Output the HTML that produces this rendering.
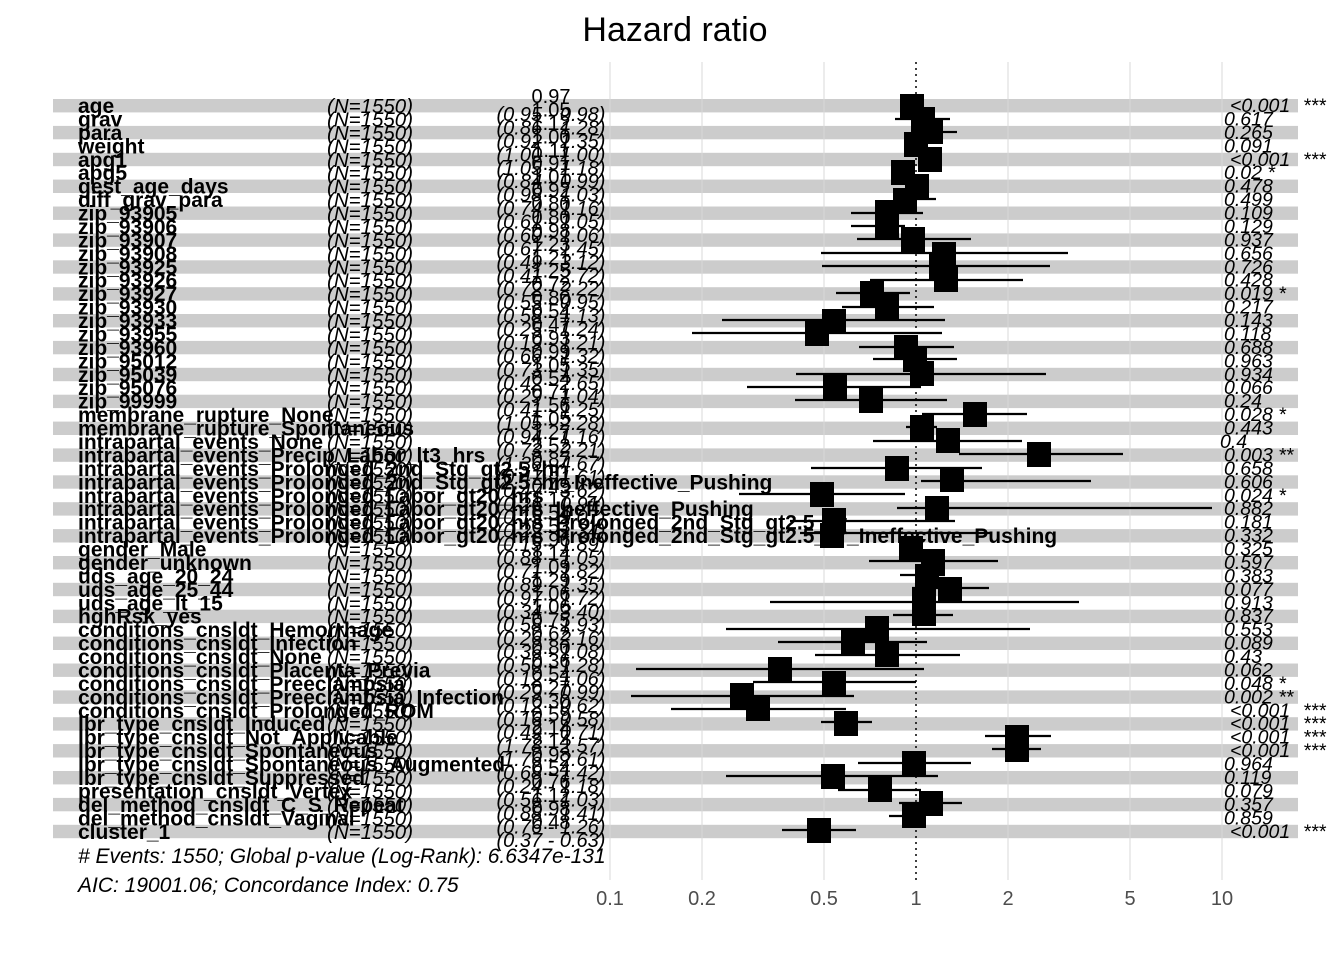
<!DOCTYPE html>
<html><head><meta charset="utf-8"><style>
body{margin:0;background:#fff}
svg{display:block}
text{font-family:"Liberation Sans",Arial,sans-serif}
.l{font-size:21px;font-weight:bold}
.n{font-size:20.5px;font-style:italic}
.e{font-size:20px;text-anchor:middle}
.c{font-size:20px;font-style:italic;text-anchor:middle}
.p{font-size:19.5px;font-style:italic}
.ax{font-size:20px;fill:#4d4d4d;text-anchor:middle}
</style></head><body>
<svg width="1344" height="960" xmlns="http://www.w3.org/2000/svg">
<rect width="1344" height="960" fill="#fff"/>
<text x="675" y="41" font-size="34" text-anchor="middle">Hazard ratio</text>
<g fill="#cccccc">
<rect x="53" y="99" width="1245" height="13.4"/><rect x="53" y="125.9" width="1245" height="13.4"/><rect x="53" y="152.8" width="1245" height="13.4"/><rect x="53" y="179.6" width="1245" height="13.4"/><rect x="53" y="206.5" width="1245" height="13.4"/><rect x="53" y="233.4" width="1245" height="13.4"/><rect x="53" y="260.3" width="1245" height="13.4"/><rect x="53" y="287.2" width="1245" height="13.4"/><rect x="53" y="314" width="1245" height="13.4"/><rect x="53" y="340.9" width="1245" height="13.4"/><rect x="53" y="367.8" width="1245" height="13.4"/><rect x="53" y="394.7" width="1245" height="13.4"/><rect x="53" y="421.6" width="1245" height="13.4"/><rect x="53" y="448.4" width="1245" height="13.4"/><rect x="53" y="475.3" width="1245" height="13.4"/><rect x="53" y="502.2" width="1245" height="13.4"/><rect x="53" y="529.1" width="1245" height="13.4"/><rect x="53" y="556" width="1245" height="13.4"/><rect x="53" y="582.8" width="1245" height="13.4"/><rect x="53" y="609.7" width="1245" height="13.4"/><rect x="53" y="636.6" width="1245" height="13.4"/><rect x="53" y="663.5" width="1245" height="13.4"/><rect x="53" y="690.4" width="1245" height="13.4"/><rect x="53" y="717.2" width="1245" height="13.4"/><rect x="53" y="744.1" width="1245" height="13.4"/><rect x="53" y="771" width="1245" height="13.4"/><rect x="53" y="797.9" width="1245" height="13.4"/><rect x="53" y="824.8" width="1245" height="13.4"/>
</g>
<g stroke="#d9d9d9" stroke-width="1">
<line x1="610" y1="62" x2="610" y2="880"/><line x1="702" y1="62" x2="702" y2="880"/><line x1="824" y1="62" x2="824" y2="880"/><line x1="1008" y1="62" x2="1008" y2="880"/><line x1="1130" y1="62" x2="1130" y2="880"/><line x1="1222" y1="62" x2="1222" y2="880"/>
</g>
<line x1="916" y1="62" x2="916" y2="880" stroke="#000" stroke-width="1.5" stroke-dasharray="2,4"/>
<g stroke="#000" stroke-width="2.2">
<line x1="895" y1="119" x2="950" y2="119"/><line x1="942" y1="132" x2="957" y2="132"/><line x1="917" y1="199" x2="936" y2="199"/><line x1="851" y1="213" x2="923" y2="213"/><line x1="851" y1="226" x2="905" y2="226"/><line x1="857" y1="239" x2="971" y2="239"/><line x1="821" y1="253" x2="1068" y2="253"/><line x1="822" y1="266" x2="1050" y2="266"/><line x1="870" y1="280" x2="1023" y2="280"/><line x1="836" y1="293" x2="910" y2="293"/><line x1="842" y1="307" x2="934" y2="307"/><line x1="722" y1="320" x2="945" y2="320"/><line x1="692" y1="333" x2="942" y2="333"/><line x1="859" y1="347" x2="954" y2="347"/><line x1="873" y1="359" x2="957" y2="359"/><line x1="796" y1="374" x2="1046" y2="374"/><line x1="747" y1="387" x2="921" y2="387"/><line x1="795" y1="400" x2="947" y2="400"/><line x1="922" y1="414" x2="1027" y2="414"/><line x1="906" y1="427" x2="937" y2="427"/><line x1="873" y1="441" x2="1022" y2="441"/><line x1="959" y1="454" x2="1123" y2="454"/><line x1="811" y1="468" x2="982" y2="468"/><line x1="921" y1="481" x2="1091" y2="481"/><line x1="739" y1="494" x2="905" y2="494"/><line x1="897" y1="508" x2="1212" y2="508"/><line x1="790" y1="521" x2="955" y2="521"/><line x1="800" y1="533" x2="990" y2="533"/><line x1="869" y1="561" x2="998" y2="561"/><line x1="900" y1="575" x2="945" y2="575"/><line x1="912" y1="588" x2="989" y2="588"/><line x1="770" y1="602" x2="1079" y2="602"/><line x1="893" y1="615" x2="953" y2="615"/><line x1="726" y1="629" x2="1030" y2="629"/><line x1="778" y1="642" x2="927" y2="642"/><line x1="815" y1="655" x2="960" y2="655"/><line x1="636" y1="669" x2="924" y2="669"/><line x1="753" y1="682" x2="916" y2="682"/><line x1="631" y1="696" x2="854" y2="696"/><line x1="671" y1="709" x2="846" y2="709"/><line x1="821" y1="722" x2="872" y2="722"/><line x1="985" y1="736" x2="1051" y2="736"/><line x1="992" y1="749" x2="1041" y2="749"/><line x1="858" y1="763" x2="971" y2="763"/><line x1="726" y1="776" x2="938" y2="776"/><line x1="838" y1="790" x2="921" y2="790"/><line x1="899" y1="803" x2="962" y2="803"/><line x1="889" y1="816" x2="921" y2="816"/><line x1="782" y1="830" x2="856" y2="830"/>
</g>
<g fill="#000">
<rect x="900" y="94" width="24" height="25"/><rect x="911" y="107" width="24" height="25"/><rect x="919" y="119" width="24" height="25"/><rect x="904" y="132" width="24" height="25"/><rect x="918" y="147" width="24" height="25"/><rect x="891" y="160" width="24" height="25"/><rect x="905" y="174" width="24" height="25"/><rect x="893" y="188" width="24" height="25"/><rect x="875" y="200" width="24" height="25"/><rect x="875" y="214" width="24" height="25"/><rect x="901" y="227" width="24" height="25"/><rect x="932" y="242" width="24" height="25"/><rect x="929" y="254" width="24" height="25"/><rect x="934" y="267" width="24" height="25"/><rect x="860" y="281" width="24" height="25"/><rect x="875" y="294" width="24" height="25"/><rect x="822" y="309" width="24" height="25"/><rect x="805" y="321" width="24" height="25"/><rect x="894" y="335" width="24" height="25"/><rect x="903" y="347" width="24" height="25"/><rect x="910" y="361" width="24" height="25"/><rect x="823" y="375" width="24" height="25"/><rect x="859" y="388" width="24" height="25"/><rect x="963" y="402" width="24" height="25"/><rect x="910" y="415" width="24" height="25"/><rect x="936" y="428" width="24" height="25"/><rect x="1027" y="442" width="24" height="25"/><rect x="885" y="456" width="24" height="25"/><rect x="940" y="467" width="24" height="25"/><rect x="810" y="482" width="24" height="25"/><rect x="925" y="496" width="24" height="25"/><rect x="822" y="508" width="24" height="25"/><rect x="820" y="523" width="24" height="25"/><rect x="899" y="536" width="24" height="25"/><rect x="921" y="549" width="24" height="25"/><rect x="915" y="564" width="24" height="25"/><rect x="938" y="577" width="24" height="25"/><rect x="912" y="589" width="24" height="25"/><rect x="912" y="601" width="24" height="25"/><rect x="865" y="616" width="24" height="25"/><rect x="841" y="630" width="24" height="25"/><rect x="875" y="642" width="24" height="25"/><rect x="768" y="657" width="24" height="25"/><rect x="822" y="671" width="24" height="25"/><rect x="730" y="683" width="24" height="25"/><rect x="746" y="696" width="24" height="25"/><rect x="834" y="711" width="24" height="25"/><rect x="1005" y="725" width="24" height="25"/><rect x="1005" y="737" width="24" height="25"/><rect x="902" y="751" width="24" height="25"/><rect x="821" y="764" width="24" height="25"/><rect x="868" y="777" width="24" height="25"/><rect x="919" y="791" width="24" height="25"/><rect x="902" y="803" width="24" height="25"/><rect x="807" y="818" width="24" height="25"/>
</g>
<g class="l">
<text x="78" y="113">age</text><text x="78" y="126.4">grav</text><text x="78" y="139.9">para</text><text x="78" y="153.3">weight</text><text x="78" y="166.8">apg1</text><text x="78" y="180.2">apg5</text><text x="78" y="193.6">gest_age_days</text><text x="78" y="207.1">diff_grav_para</text><text x="78" y="220.5">zip_93905</text><text x="78" y="234">zip_93906</text><text x="78" y="247.4">zip_93907</text><text x="78" y="260.8">zip_93908</text><text x="78" y="274.3">zip_93925</text><text x="78" y="287.7">zip_93926</text><text x="78" y="301.2">zip_93927</text><text x="78" y="314.6">zip_93930</text><text x="78" y="328">zip_93933</text><text x="78" y="341.5">zip_93955</text><text x="78" y="354.9">zip_93960</text><text x="78" y="368.4">zip_95012</text><text x="78" y="381.8">zip_95039</text><text x="78" y="395.2">zip_95076</text><text x="78" y="408.7">zip_99999</text><text x="78" y="422.1">membrane_rupture_None</text><text x="78" y="435.6">membrane_rupture_Spontaneous</text><text x="78" y="449">intrapartal_events_None</text><text x="78" y="462.4">intrapartal_events_Precip_Labor_lt3_hrs</text><text x="78" y="475.9">intrapartal_events_Prolonged_2nd_Stg_gt2.5_hr</text><text x="78" y="489.3">intrapartal_events_Prolonged_2nd_Stg_gt2.5_hr_Ineffective_Pushing</text><text x="78" y="502.8">intrapartal_events_Prolonged_Labor_gt20_hrs</text><text x="78" y="516.2">intrapartal_events_Prolonged_Labor_gt20_hrs_Ineffective_Pushing</text><text x="78" y="529.6">intrapartal_events_Prolonged_Labor_gt20_hrs_Prolonged_2nd_Stg_gt2.5_hr</text><text x="78" y="543.1">intrapartal_events_Prolonged_Labor_gt20_hrs_Prolonged_2nd_Stg_gt2.5_hr_Ineffective_Pushing</text><text x="78" y="556.5">gender_Male</text><text x="78" y="570">gender_unknown</text><text x="78" y="583.4">uds_age_20_24</text><text x="78" y="596.8">uds_age_25_44</text><text x="78" y="610.3">uds_age_lt_15</text><text x="78" y="623.7">hghRsk_yes</text><text x="78" y="637.2">conditions_cnsldt_Hemorrhage</text><text x="78" y="650.6">conditions_cnsldt_Infection</text><text x="78" y="664">conditions_cnsldt_None</text><text x="78" y="677.5">conditions_cnsldt_Placenta_Previa</text><text x="78" y="690.9">conditions_cnsldt_Preeclampsia</text><text x="78" y="704.4">conditions_cnsldt_Preeclampsia_Infection</text><text x="78" y="717.8">conditions_cnsldt_Prolonged_ROM</text><text x="78" y="731.2">lbr_type_cnsldt_Induced</text><text x="78" y="744.7">lbr_type_cnsldt_Not_Applicable</text><text x="78" y="758.1">lbr_type_cnsldt_Spontaneous</text><text x="78" y="771.6">lbr_type_cnsldt_Spontaneous_Augmented</text><text x="78" y="785">lbr_type_cnsldt_Suppressed</text><text x="78" y="798.4">presentation_cnsldt_Vertex</text><text x="78" y="811.9">del_method_cnsldt_C_S_Repeat</text><text x="78" y="825.3">del_method_cnsldt_Vaginal</text><text x="78" y="838.8">cluster_1</text>
</g>
<g class="n">
<text x="327" y="113">(N=1550)</text><text x="327" y="126.4">(N=1550)</text><text x="327" y="139.9">(N=1550)</text><text x="327" y="153.3">(N=1550)</text><text x="327" y="166.8">(N=1550)</text><text x="327" y="180.2">(N=1550)</text><text x="327" y="193.6">(N=1550)</text><text x="327" y="207.1">(N=1550)</text><text x="327" y="220.5">(N=1550)</text><text x="327" y="234">(N=1550)</text><text x="327" y="247.4">(N=1550)</text><text x="327" y="260.8">(N=1550)</text><text x="327" y="274.3">(N=1550)</text><text x="327" y="287.7">(N=1550)</text><text x="327" y="301.2">(N=1550)</text><text x="327" y="314.6">(N=1550)</text><text x="327" y="328">(N=1550)</text><text x="327" y="341.5">(N=1550)</text><text x="327" y="354.9">(N=1550)</text><text x="327" y="368.4">(N=1550)</text><text x="327" y="381.8">(N=1550)</text><text x="327" y="395.2">(N=1550)</text><text x="327" y="408.7">(N=1550)</text><text x="327" y="422.1">(N=1550)</text><text x="327" y="435.6">(N=1550)</text><text x="327" y="449">(N=1550)</text><text x="327" y="462.4">(N=1550)</text><text x="327" y="475.9">(N=1550)</text><text x="327" y="489.3">(N=1550)</text><text x="327" y="502.8">(N=1550)</text><text x="327" y="516.2">(N=1550)</text><text x="327" y="529.6">(N=1550)</text><text x="327" y="543.1">(N=1550)</text><text x="327" y="556.5">(N=1550)</text><text x="327" y="570">(N=1550)</text><text x="327" y="583.4">(N=1550)</text><text x="327" y="596.8">(N=1550)</text><text x="327" y="610.3">(N=1550)</text><text x="327" y="623.7">(N=1550)</text><text x="327" y="637.2">(N=1550)</text><text x="327" y="650.6">(N=1550)</text><text x="327" y="664">(N=1550)</text><text x="327" y="677.5">(N=1550)</text><text x="327" y="690.9">(N=1550)</text><text x="327" y="704.4">(N=1550)</text><text x="327" y="717.8">(N=1550)</text><text x="327" y="731.2">(N=1550)</text><text x="327" y="744.7">(N=1550)</text><text x="327" y="758.1">(N=1550)</text><text x="327" y="771.6">(N=1550)</text><text x="327" y="785">(N=1550)</text><text x="327" y="798.4">(N=1550)</text><text x="327" y="811.9">(N=1550)</text><text x="327" y="825.3">(N=1550)</text><text x="327" y="838.8">(N=1550)</text>
</g>
<g class="e">
<text x="551" y="103">0.97</text><text x="551" y="116.4">1.05</text><text x="551" y="129.9">1.12</text><text x="551" y="143.3">1.00</text><text x="551" y="156.8">1.11</text><text x="551" y="170.2">0.91</text><text x="551" y="183.6">1.01</text><text x="551" y="197.1">0.92</text><text x="551" y="210.5">0.80</text><text x="551" y="224">0.80</text><text x="551" y="237.4">0.98</text><text x="551" y="250.8">1.23</text><text x="551" y="264.3">1.21</text><text x="551" y="277.7">1.25</text><text x="551" y="291.2">0.72</text><text x="551" y="304.6">0.80</text><text x="551" y="318">0.54</text><text x="551" y="331.5">0.47</text><text x="551" y="344.9">0.93</text><text x="551" y="358.4">0.99</text><text x="551" y="371.8">1.05</text><text x="551" y="385.2">0.54</text><text x="551" y="398.7">0.71</text><text x="551" y="412.1">1.56</text><text x="551" y="425.6">1.05</text><text x="551" y="439">1.27</text><text x="551" y="452.4">2.52</text><text x="551" y="465.9">0.87</text><text x="551" y="479.3">1.31</text><text x="551" y="492.8">0.49</text><text x="551" y="506.2">1.17</text><text x="551" y="519.6">0.54</text><text x="551" y="533.1">0.53</text><text x="551" y="546.5">0.96</text><text x="551" y="560">1.14</text><text x="551" y="573.4">1.09</text><text x="551" y="586.8">1.29</text><text x="551" y="600.3">1.06</text><text x="551" y="613.7">1.06</text><text x="551" y="627.2">0.75</text><text x="551" y="640.6">0.62</text><text x="551" y="654">0.80</text><text x="551" y="667.5">0.36</text><text x="551" y="680.9">0.54</text><text x="551" y="694.4">0.27</text><text x="551" y="707.8">0.30</text><text x="551" y="721.2">0.59</text><text x="551" y="734.7">2.14</text><text x="551" y="748.1">2.14</text><text x="551" y="761.6">0.98</text><text x="551" y="775">0.54</text><text x="551" y="788.4">0.76</text><text x="551" y="801.9">1.12</text><text x="551" y="815.3">0.98</text><text x="551" y="828.8">0.48</text>
</g>
<g class="c">
<text x="551" y="121">(0.95 - 0.98)</text><text x="551" y="134.4">(0.86 - 1.28)</text><text x="551" y="147.9">(0.92 - 1.35)</text><text x="551" y="161.3">(1.00 - 1.00)</text><text x="551" y="174.8">(1.05 - 1.18)</text><text x="551" y="188.2">(0.84 - 0.99)</text><text x="551" y="201.6">(0.98 - 1.03)</text><text x="551" y="215.1">(0.74 - 1.16)</text><text x="551" y="228.5">(0.61 - 1.05)</text><text x="551" y="242">(0.60 - 1.06)</text><text x="551" y="255.4">(0.67 - 1.45)</text><text x="551" y="268.8">(0.49 - 3.12)</text><text x="551" y="282.3">(0.41 - 2.72)</text><text x="551" y="295.7">(0.72 - 2.22)</text><text x="551" y="309.2">(0.55 - 0.95)</text><text x="551" y="322.6">(0.58 - 1.13)</text><text x="551" y="336">(0.25 - 1.24)</text><text x="551" y="349.5">(0.19 - 1.21)</text><text x="551" y="362.9">(0.66 - 1.32)</text><text x="551" y="376.4">(0.73 - 1.35)</text><text x="551" y="389.8">(0.42 - 2.65)</text><text x="551" y="403.2">(0.29 - 1.04)</text><text x="551" y="416.7">(0.41 - 1.25)</text><text x="551" y="430.1">(1.05 - 2.28)</text><text x="551" y="443.6">(0.94 - 1.16)</text><text x="551" y="457">(0.73 - 2.21)</text><text x="551" y="470.4">(1.36 - 4.67)</text><text x="551" y="483.9">(0.47 - 1.61)</text><text x="551" y="497.3">(0.47 - 3.62)</text><text x="551" y="510.8">(0.26 - 0.91)</text><text x="551" y="524.2">(0.15 - 9.07)</text><text x="551" y="537.6">(0.22 - 1.34)</text><text x="551" y="551.1">(0.15 - 1.89)</text><text x="551" y="564.5">(0.88 - 1.05)</text><text x="551" y="578">(0.71 - 1.82)</text><text x="551" y="591.4">(0.89 - 1.35)</text><text x="551" y="604.8">(0.97 - 1.72)</text><text x="551" y="618.3">(0.34 - 3.40)</text><text x="551" y="631.7">(0.58 - 1.93)</text><text x="551" y="645.2">(0.26 - 2.16)</text><text x="551" y="658.6">(0.36 - 1.08)</text><text x="551" y="672">(0.50 - 1.28)</text><text x="551" y="685.5">(0.12 - 1.06)</text><text x="551" y="698.9">(0.29 - 0.99)</text><text x="551" y="712.4">(0.12 - 0.62)</text><text x="551" y="725.8">(0.16 - 0.58)</text><text x="551" y="739.2">(0.49 - 0.71)</text><text x="551" y="752.7">(1.78 - 2.57)</text><text x="551" y="766.1">(1.76 - 2.61)</text><text x="551" y="779.6">(0.68 - 1.42)</text><text x="551" y="793">(0.24 - 1.18)</text><text x="551" y="806.4">(0.56 - 1.03)</text><text x="551" y="819.9">(0.88 - 1.41)</text><text x="551" y="833.3">(0.76 - 1.26)</text><text x="551" y="846.8">(0.37 - 0.63)</text>
</g>
<g class="p">
<text x="1230" y="112">&lt;0.001 <tspan x="1303">***</tspan></text><text x="1224" y="125.4">0.617</text><text x="1224" y="138.9">0.265</text><text x="1224" y="152.3">0.091</text><text x="1230" y="165.8">&lt;0.001 <tspan x="1303">***</tspan></text><text x="1224" y="179.2">0.02 *</text><text x="1224" y="192.6">0.478</text><text x="1224" y="206.1">0.499</text><text x="1224" y="219.5">0.109</text><text x="1224" y="233">0.129</text><text x="1224" y="246.4">0.937</text><text x="1224" y="259.8">0.656</text><text x="1224" y="273.3">0.726</text><text x="1224" y="286.7">0.428</text><text x="1224" y="300.2">0.019 *</text><text x="1224" y="313.6">0.217</text><text x="1224" y="327">0.143</text><text x="1224" y="340.5">0.118</text><text x="1224" y="353.9">0.688</text><text x="1224" y="367.4">0.963</text><text x="1224" y="380.8">0.934</text><text x="1224" y="394.2">0.066</text><text x="1224" y="407.7">0.24</text><text x="1224" y="421.1">0.028 *</text><text x="1224" y="434.6">0.443</text><text x="1220" y="448">0.4</text><text x="1224" y="461.4">0.003 **</text><text x="1224" y="474.9">0.658</text><text x="1224" y="488.3">0.606</text><text x="1224" y="501.8">0.024 *</text><text x="1224" y="515.2">0.882</text><text x="1224" y="528.6">0.181</text><text x="1224" y="542.1">0.332</text><text x="1224" y="555.5">0.325</text><text x="1224" y="569">0.597</text><text x="1224" y="582.4">0.383</text><text x="1224" y="595.8">0.077</text><text x="1224" y="609.3">0.913</text><text x="1224" y="622.7">0.837</text><text x="1224" y="636.2">0.553</text><text x="1224" y="649.6">0.089</text><text x="1224" y="663">0.43</text><text x="1224" y="676.5">0.062</text><text x="1224" y="689.9">0.048 *</text><text x="1224" y="703.4">0.002 **</text><text x="1230" y="716.8">&lt;0.001 <tspan x="1303">***</tspan></text><text x="1230" y="730.2">&lt;0.001 <tspan x="1303">***</tspan></text><text x="1230" y="743.7">&lt;0.001 <tspan x="1303">***</tspan></text><text x="1230" y="757.1">&lt;0.001 <tspan x="1303">***</tspan></text><text x="1224" y="770.6">0.964</text><text x="1224" y="784">0.119</text><text x="1224" y="797.4">0.079</text><text x="1224" y="810.9">0.357</text><text x="1224" y="824.3">0.859</text><text x="1230" y="837.8">&lt;0.001 <tspan x="1303">***</tspan></text>
</g>
<text x="78" y="863" font-size="21" font-style="italic"># Events: 1550; Global p-value (Log-Rank): 6.6347e-131</text>
<text x="78" y="892" font-size="21" font-style="italic">AIC: 19001.06; Concordance Index: 0.75</text>
<g class="ax">
<text x="610" y="905">0.1</text><text x="702" y="905">0.2</text><text x="824" y="905">0.5</text><text x="916" y="905">1</text><text x="1008" y="905">2</text><text x="1130" y="905">5</text><text x="1222" y="905">10</text>
</g>
</svg>
</body></html>
